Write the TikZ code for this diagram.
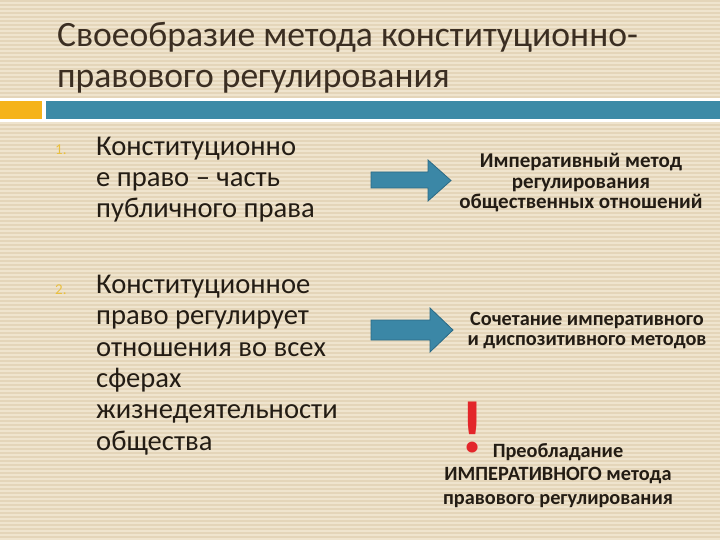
\documentclass[tikz,border=0pt]{standalone}
\usepackage{fontspec}
\setmainfont{Carlito}
\usetikzlibrary{positioning}
\definecolor{paper}{HTML}{EFE4CE}
\definecolor{stripe}{HTML}{E4D5B9}
\definecolor{gold}{HTML}{F5B31A}
\definecolor{teal}{HTML}{3C8AA6}
\definecolor{arrowfill}{HTML}{3B87A6}
\definecolor{arrowline}{HTML}{2B6A85}
\definecolor{ink}{HTML}{231C14}
\definecolor{headink}{HTML}{3B2E22}
\definecolor{numink}{HTML}{E9BF3F}
\definecolor{alert}{HTML}{E3262A}
\tikzset{
  heading/.style={
    anchor=base west, inner sep=0pt, align=left,
    text=headink, font=\fontsize{35.6}{41}\selectfont
  },
  item/.style={
    anchor=base west, inner sep=0pt, align=left,
    text=ink, font=\fontsize{28.6}{31.3}\selectfont
  },
  num/.style={anchor=base west, inner sep=0pt, text=numink, font=\fontsize{15}{15}\selectfont},
  result/.style={
    anchor=base, inner sep=0pt, align=center,
    text=ink, font=\bfseries\fontsize{20.3}{19.7}\selectfont
  },
  bigarrow/.style={fill=arrowfill, draw=arrowline, line width=0.8pt}
}

\begin{document}
\begin{tikzpicture}[x=1pt, y=-1pt]
  \useasboundingbox (0,0) rectangle (720,540);
  % paper
  \fill[paper] (0,0) rectangle (720,540);
  \foreach \y in {0,4,...,536}
    \fill[stripe] (0,\y) rectangle (720,\y+2);
  % title rule
  \fill[white] (0,98) rectangle (720,122);
  \fill[gold] (0,101) rectangle (42,119);
  \fill[teal] (46,101) rectangle (720,119);

  % base anchor = last line
  \node[heading] (title) at (57,88) {Своеобразие метода конституционно-\\правового регулирования};

  \node[num] (n1) at (55,155) {1.};
  \node[item] (it1) at (96,218) {Конституционно\\е право – часть\\публичного права};
  \node[num] (n2) at (55,294) {2.};
  \node[item] (it2) at (96,450) {Конституционное\\право регулирует\\отношения во всех\\сферах\\жизнедеятельности\\общества};

  \draw[bigarrow] (371,172) -- (428,172) -- (428,160) -- (451,180.5) -- (428,201) -- (428,188) -- (371,188) -- cycle;
  \draw[bigarrow] (371,320) -- (430,320) -- (430,308) -- (453,330) -- (430,352) -- (430,340) -- (371,340) -- cycle;

  \node[result, font=\bfseries\fontsize{21}{20}\selectfont] (r1) at (581,208) {Императивный метод\\регулирования\\общественных отношений};
  \node[result] (r2) at (587,345) {Сочетание императивного\\и диспозитивного методов};
  \node[text=alert, inner sep=0pt, anchor=base, font=\bfseries\fontsize{74}{74}\selectfont] (excl) at (473,452) {!};
  \node[result, font=\bfseries\fontsize{20.3}{23.5}\selectfont] (r3) at (558,504) {Преобладание\\ИМПЕРАТИВНОГО метода\\правового регулирования};
\end{tikzpicture}
\end{document}
